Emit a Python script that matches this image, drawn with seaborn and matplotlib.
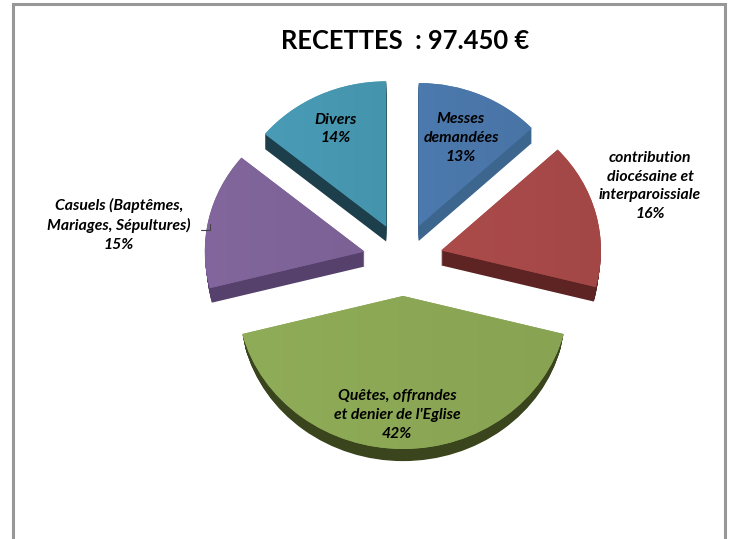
import numpy as np
import matplotlib.pyplot as plt
from matplotlib.colors import LinearSegmentedColormap, to_rgb
from matplotlib.lines import Line2D
import seaborn as sns

categories = ['Messes\ndemandées', 'contribution\ndiocésaine et\ninterparoissiale',
              "Quêtes, offrandes\net denier de l'Eglise",
              'Casuels (Baptêmes,\nMariages, Sépultures)', 'Divers']
shares = [13, 16, 42, 15, 14]
title = 'RECETTES  : 97.450 €'

face_colors = ['#4A76A9', '#A64948', '#8BA755', '#7E6398', '#4797B1']
wall_colors = ['#3D668F', '#5E2424', '#3A451D', '#56416C', '#1D3F4B']

# pixel layout of the picture
W, H = 729, 539
center_x, center_y = 403, 259.5
radius_x, radius_y = 155, 143
depth = 15
slice_scale = [1.0, 1.03, 1.07, 1.03, 1.015]
wall_tuck = [0, 0.014, 0.02, 0.014, 0]
label_pos = [(461, 138), (650, 186), (397, 415), (119, 225), (336, 129)]

sns.set_theme(style='white')
plt.rcParams['font.family'] = ['Lato', 'DejaVu Sans']

fig = plt.figure(figsize=(W / 100, H / 100), dpi=100)
ax = fig.add_axes([0, 0, 1, 1])
xlim = (-center_x / radius_x, (W - center_x) / radius_x)
ylim = (-(H - center_y) / radius_y, center_y / radius_y)


def draw_pie(colors, shift, tuck):
    wedges, _ = ax.pie(shares, colors=colors, explode=[0.255] * len(shares), startangle=90,
                       counterclock=False, radius=1, center=(0, shift), frame=True,
                       wedgeprops={'linewidth': 0})
    for w, s, t in zip(wedges, slice_scale, wall_tuck):
        w.set_radius(s - t * tuck)
    return wedges


# side walls, stacked copies going down, the deeper the narrower
walls = sns.color_palette(wall_colors)
for step in np.linspace(depth, 1, 15):
    draw_pie(walls, -step / radius_y, step / depth)

faces = draw_pie(sns.color_palette(face_colors), 0, 0)

# soft left to right shading on the top faces
for w, col in zip(faces, face_colors):
    base = np.array(to_rgb(col))
    cmap = LinearSegmentedColormap.from_list('shade', [np.clip(base * 1.03, 0, 1), np.clip(base * 0.98, 0, 1)])
    bb = w.get_path().get_extents(w.get_patch_transform())
    im = ax.imshow(np.linspace(0, 1, 64).reshape(1, -1), cmap=cmap, aspect='auto',
                   extent=(bb.x0, bb.x1, bb.y0, bb.y1), zorder=w.get_zorder() + 0.1)
    im.set_clip_path(w)

ax.set_xlim(*xlim)
ax.set_ylim(*ylim)
ax.set_aspect('auto')
ax.axis('off')

for cat, share, (x, y) in zip(categories, shares, label_pos):
    fig.text(x / W, 1 - y / H, f'{cat}\n{share}%', ha='center', va='center', fontsize=11.3,
             fontweight='bold', fontstyle='italic', color='black', linespacing=1.45)

fig.text(405 / W, 1 - 41 / H, title, ha='center', va='center', fontsize=18.4, fontweight='bold', color='black')

# leader line of the Casuels label
fig.add_artist(Line2D([201 / W, 210 / W, 210 / W], [1 - 229.5 / H, 1 - 229.5 / H, 1 - 224 / H],
                      color='#444444', lw=0.8))

# grey frame, its bottom is cut off
fig.add_artist(Line2D([12.5 / W, 12.5 / W, 725 / W, 725 / W], [0, 1 - 3.5 / H, 1 - 3.5 / H, 0],
                      color='#979797', lw=2.2, solid_joinstyle='miter'))

fig.savefig('out.png', dpi=100, facecolor='white')
